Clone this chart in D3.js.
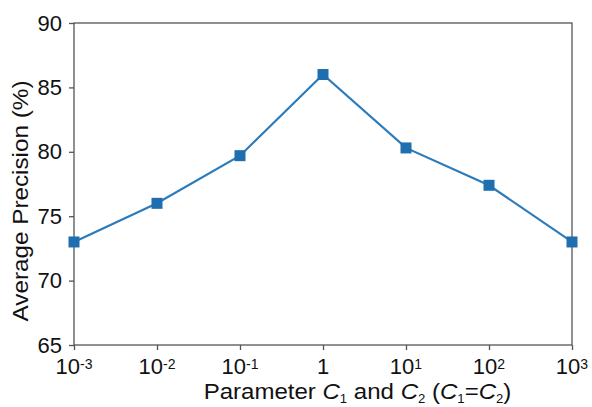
<!DOCTYPE html>
<html>
<head>
<meta charset="utf-8">
<script src="https://cdn.jsdelivr.net/npm/d3@7"></script>
<style>
  body { margin: 0; background: #fff; }
  svg { display: block; font-family: "Liberation Sans", Arial, sans-serif; }
</style>
</head>
<body>
<svg id="chart" width="592" height="407"></svg>
<script>
// parameter exponents (C = 10^e) and average precision values
const exponents = [-3, -2, -1, 0, 1, 2, 3];
const precision = [73.0, 76.0, 79.7, 86.0, 80.3, 77.4, 73.0];
const yTicks = [65, 70, 75, 80, 85, 90];

const W = 592, H = 407;
const m = { left: 74, right: 20, top: 23, bottom: 62 };
const svg = d3.select("#chart");
const axisColor = "#555";
const blue = "#2c7bba";
const fs = "22px";

const x = d3.scaleLinear().domain([-3, 3]).range([m.left, W - m.right]);
const y = d3.scaleLinear().domain([65, 90]).range([H - m.bottom, m.top]);

// frame
svg.append("rect")
  .attr("x", m.left).attr("y", m.top)
  .attr("width", W - m.right - m.left)
  .attr("height", H - m.bottom - m.top)
  .attr("fill", "none").attr("stroke", axisColor).attr("stroke-width", 1.3);

// y axis
const gy = svg.append("g")
  .attr("transform", `translate(${m.left},0)`)
  .call(d3.axisLeft(y).tickValues(yTicks).tickSize(5).tickPadding(7));
gy.select(".domain").remove();
gy.selectAll("line").attr("stroke", axisColor).attr("stroke-width", 1.3);
gy.selectAll("text").attr("font-size", fs).attr("fill", "#111")
  .attr("font-family", "Liberation Sans, Arial, sans-serif");

// x axis
const gx = svg.append("g")
  .attr("transform", `translate(0,${H - m.bottom})`)
  .call(d3.axisBottom(x).tickValues(exponents).tickSize(5).tickFormat(""));
gx.select(".domain").remove();
gx.selectAll("line").attr("stroke", axisColor).attr("stroke-width", 1.3);

const xl = svg.append("g").selectAll("text").data(exponents).join("text")
  .attr("x", d => x(d))
  .attr("y", H - m.bottom + 29)
  .attr("text-anchor", "middle")
  .attr("font-size", fs)
  .attr("fill", "#111");
xl.each(function (d) {
  const t = d3.select(this);
  if (d === 0) { t.text("1"); return; }
  t.append("tspan").text("10");
  t.append("tspan").attr("dy", -5).attr("font-size", "14px").text(d);
});

// line + markers
const line = d3.line().x((d, i) => x(exponents[i])).y(d => y(d));
svg.append("path").datum(precision)
  .attr("d", line)
  .attr("fill", "none").attr("stroke", blue).attr("stroke-width", 2.2);

const ms = 11;
svg.append("g").selectAll("rect").data(precision).join("rect")
  .attr("x", (d, i) => x(exponents[i]) - ms / 2)
  .attr("y", d => y(d) - ms / 2)
  .attr("width", ms).attr("height", ms)
  .attr("fill", "#1f6fb0");

// axis labels (the reference's label font runs a bit wide, so stretch to its length)
const yt = svg.append("text")
  .attr("text-anchor", "middle")
  .attr("font-size", fs).attr("fill", "#111")
  .text("Average Precision (%)");
const ky = 241 / yt.node().getComputedTextLength();
yt.attr("transform", `translate(28,201) rotate(-90) scale(${ky},1)`);

const xt = svg.append("text")
  .attr("text-anchor", "middle")
  .attr("font-size", fs).attr("fill", "#111");
const sub = (t, s) => {
  xt.append("tspan").attr("font-style", "italic").text("C");
  xt.append("tspan").attr("font-size", "12px").attr("dy", 4).text(s);
  xt.append("tspan").attr("dy", -4).text(t);
};
xt.append("tspan").text("Parameter ");
sub(" and ", "1");
sub(" (", "2");
sub("=", "1");
sub(")", "2");
const kx = 308 / xt.node().getBBox().width;
xt.attr("transform", `translate(357.5,399) scale(${kx},1)`);
</script>
</body>
</html>
